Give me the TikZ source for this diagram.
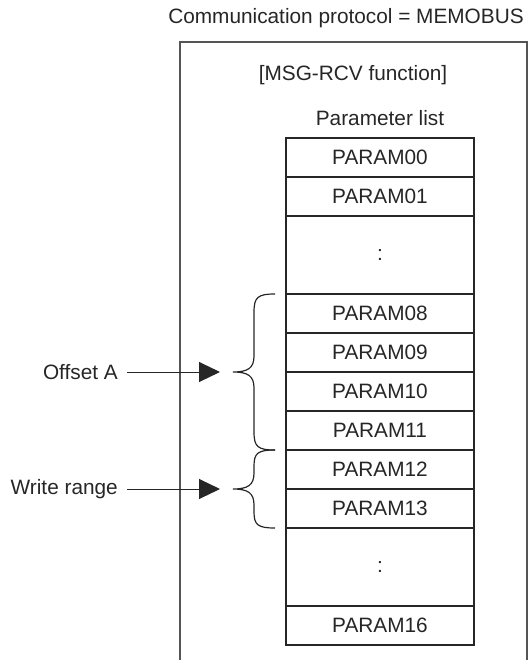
\documentclass[tikz,border=0pt]{standalone}
\usepackage{fontspec}
\setmainfont{Liberation Sans}
\usetikzlibrary{arrows.meta}
\definecolor{ink}{HTML}{262626}
\definecolor{frame}{HTML}{555555}
\tikzset{
  every node/.style={text=ink, font=\fontsize{20.8}{24}\selectfont},
  prow/.style={draw=ink, line width=1.3pt, minimum width=188pt, minimum height=39pt, inner sep=0pt},
  drow/.style={prow, minimum height=78pt},
  lbl/.style={anchor=east, inner sep=0pt},
  ptr/.style={draw=ink, line width=1pt, -{Triangle[length=21pt,width=20pt]}},
  brc/.style={draw=ink, line width=1.2pt},
}
\begin{document}
\begin{tikzpicture}[x=1pt,y=-1pt]
\useasboundingbox (0,0) rectangle (531,660);
% title
\node (title) at (346,18) {Communication protocol = MEMOBUS};
% outer frame (open at bottom)
\draw[frame, line width=1.5pt] (180,662) -- (180,42) -- (527,42) -- (527,662);
\node (func) at (353,75) {[MSG-RCV function]};
\node (plist) at (380,118) {Parameter list};
% table rows
\node[prow] (p00) at (380,157.5) {PARAM00};
\node[prow] (p01) at (380,196.5) {PARAM01};
\node[drow] (d1) at (380,255) {:};
\node[prow] (p08) at (380,313.5) {PARAM08};
\node[prow] (p09) at (380,352.5) {PARAM09};
\node[prow] (p10) at (380,391.5) {PARAM10};
\node[prow] (p11) at (380,430.5) {PARAM11};
\node[prow] (p12) at (380,469.5) {PARAM12};
\node[prow] (p13) at (380,508.5) {PARAM13};
\node[drow] (d2) at (380,567) {:};
\node[prow] (p16) at (380,625.5) {PARAM16};
% braces
\coordinate (tipA) at (233,372);
\coordinate (tipB) at (233,489);
\draw[brc] (275,294) .. controls (258,294) and (254,297) .. (254,312) -- (254,356)
  .. controls (254,368) and (248,372) .. (tipA)
  .. controls (248,372) and (254,376) .. (254,388) -- (254,432)
  .. controls (254,447) and (258,450) .. (275,450);
\draw[brc] (275,450) .. controls (258,450) and (254,453) .. (254,466) -- (254,473)
  .. controls (254,485) and (248,489) .. (tipB)
  .. controls (248,489) and (254,493) .. (254,505) -- (254,512)
  .. controls (254,525) and (258,528) .. (275,528);
% labels and pointers
\node[lbl] (offA) at (118,372) {Offset A};
\node[lbl] (wr) at (118,489) {Write range};
\coordinate (endA) at (220,372);
\coordinate (endB) at (220,489);
\draw[ptr] ([xshift=9pt]offA.east) -- (endA);
\draw[ptr] ([xshift=9pt]wr.east) -- (endB);
\end{tikzpicture}
\end{document}
